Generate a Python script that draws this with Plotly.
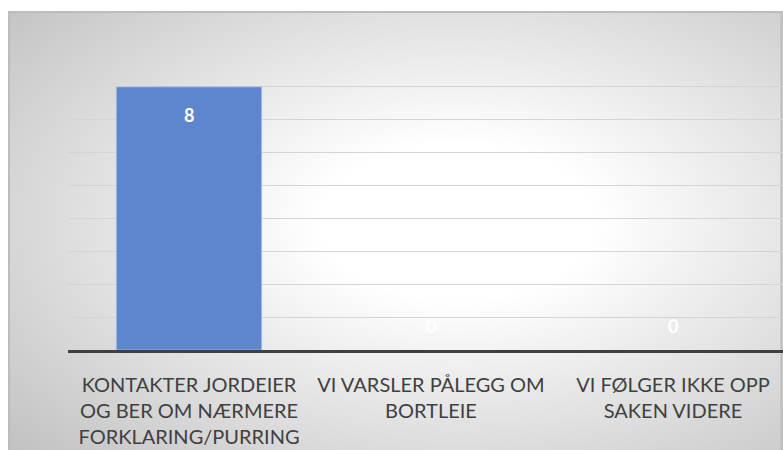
import base64
import plotly.graph_objects as go

categories = [
    "KONTAKTER JORDEIER<br>OG BER OM NÆRMERE<br>FORKLARING/PURRING",
    "VI VARSLER PÅLEGG OM<br>BORTLEIE",
    "VI FØLGER IKKE OPP<br>SAKEN VIDERE",
]
values = [8, 0, 0]
y_ticks = [0, 1, 2, 3, 4, 5, 6, 7, 8, 9]

W, H = 783, 450
ML, MR, MT, MB = 68, 0, 54, 100
pw, ph = W - ML - MR, H - MT - MB
PX0, PY0 = 8, 11  # chart panel top-left in the window

PW, PH = W - PX0, H - PY0
svg = (
    f'<svg xmlns="http://www.w3.org/2000/svg" width="{PW}" height="{PH}" viewBox="0 0 {PW} {PH}" '
    'preserveAspectRatio="none"><defs><radialGradient id="g" cx="0.58" cy="0.48" r="0.8">'
    '<stop offset="0" stop-color="#ffffff"/><stop offset="0.22" stop-color="#ffffff"/>'
    '<stop offset="1" stop-color="#bfbfbf"/></radialGradient></defs>'
    f'<rect x="0" y="0" width="{PW}" height="{PH}" fill="url(#g)"/>'
    f'<path d="M1 {PH} V1 H{PW - 1.5} V{PH}" stroke="#bcbcbc" fill="none" stroke-width="2"/></svg>'
)
src = "data:image/svg+xml;base64," + base64.b64encode(svg.encode()).decode()

fig = go.Figure()
fig.add_trace(go.Bar(
    x=categories, y=values, width=0.6,
    marker=dict(color="rgb(94,134,204)",
                line=dict(color="rgba(160,185,230,0.9)", width=[1 if v > 0 else 0 for v in values])),
    hoverinfo="skip",
))

for c, v in zip(categories, values):
    if v > 0:
        fig.add_annotation(x=c, y=v, text=str(v), showarrow=False, yanchor="top", yshift=-15,
                           font=dict(family="Lato", size=18, color="white", weight="bold"))
    else:
        fig.add_annotation(x=c, y=v, text=str(v), showarrow=False, yanchor="bottom", yshift=11,
                           font=dict(family="Lato", size=18, color="white", weight="bold"))

fig.add_layout_image(dict(
    source=src, xref="paper", yref="paper", x=(PX0 - ML) / pw, y=(H - MB - PY0) / ph,
    sizex=PW / pw, sizey=PH / ph, xanchor="left", yanchor="top",
    sizing="stretch", layer="below",
))

fig.update_layout(
    width=W, height=H,
    margin=dict(l=ML, r=MR, t=MT, b=MB, pad=0),
    paper_bgcolor="white", plot_bgcolor="rgba(0,0,0,0)",
    showlegend=False, bargap=0.4,
    font=dict(family="Lato", color="#404040"),
)
fig.update_xaxes(
    range=[-0.5, -0.5 + pw / 242.0], showgrid=False, ticks="",
    showline=True, linecolor="#404040", linewidth=3, layer="above traces", zeroline=False,
    tickfont=dict(family="Lato", size=20, color="#404040"),
    ticklabelstandoff=15,
)
fig.update_yaxes(
    range=[0, 9], tickvals=y_ticks, showticklabels=False, showgrid=True,
    gridcolor="#d4d4d4", gridwidth=1.2, zeroline=False, showline=False,
)

fig.write_html(
    "out.html",
    config={"displayModeBar": False},
    post_script="document.body.style.margin='0';document.body.style.overflow='hidden';",
)
